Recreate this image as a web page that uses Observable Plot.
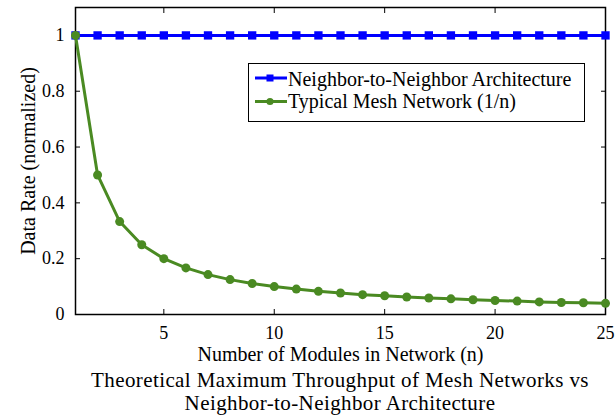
<!DOCTYPE html>
<html>
<head>
<meta charset="utf-8">
<script src="https://cdn.jsdelivr.net/npm/d3@7"></script>
<script src="https://cdn.jsdelivr.net/npm/@observablehq/plot@0.6"></script>
<style>
  body { margin: 0; background: #fff; font-family: "Liberation Serif", serif; }
  #wrap { position: relative; width: 616px; }
  #title { margin-left: 75px; width: 530px; text-align: center; font-size: 21px; line-height: 23.4px; letter-spacing: 0.4px; margin-top: 2.5px; color: #000; white-space: nowrap; }
  #legend { position: absolute; left: 248px; top: 63px; width: 337px; height: 59px; box-sizing: border-box; border: 1px solid #000; background: #fff; font-size: 20px; }
  .row { position: absolute; left: 0; height: 22px; line-height: 22px; white-space: nowrap; }
  .row svg { position: absolute; left: 0; top: 0; }
  .row span { position: absolute; left: 39px; top: 0; }
</style>
</head>
<body>
<div id="wrap">
  <div id="chart"></div>
  <div id="legend"></div>
</div>
<div id="title"></div>
<script>
const n = [1,2,3,4,5,6,7,8,9,10,11,12,13,14,15,16,17,18,19,20,21,22,23,24,25];
const neighbor = [1,1,1,1,1,1,1,1,1,1,1,1,1,1,1,1,1,1,1,1,1,1,1,1,1];
const mesh = [1,0.5,0.333,0.25,0.2,0.167,0.143,0.125,0.111,0.1,0.091,0.083,0.077,0.071,0.067,0.0625,0.059,0.056,0.053,0.05,0.048,0.045,0.043,0.042,0.04];
const xTicks = [5,10,15,20,25];
const yTicks = [0,0.2,0.4,0.6,0.8,1];
const yTickLabels = ["0","0.2","0.4","0.6","0.8","1"];
const seriesNames = ["Neighbor-to-Neighbor Architecture", "Typical Mesh Network (1/n)"];
const colors = ["#0000ff", "#4a8a22"];
const xLabel = "Number of Modules in Network (n)";
const yLabel = "Data Rate (normalized)";
const titleLines = ["Theoretical Maximum Throughput of Mesh Networks vs", "Neighbor-to-Neighbor Architecture"];

const neighborData = n.map((v, i) => ({n: v, r: neighbor[i]}));
const meshData = n.map((v, i) => ({n: v, r: mesh[i]}));

const chart = Plot.plot({
  width: 616,
  height: 366,
  marginLeft: 75,
  marginRight: 11,
  marginTop: 7,
  marginBottom: 52,
  style: {fontFamily: "'Liberation Serif', serif", fontSize: "18px", color: "#000", background: "#fff"},
  x: {domain: [1, 25]},
  y: {domain: [0, 1.1]},
  marks: [
    Plot.axisX({ticks: xTicks, tickSize: -5, tickPadding: 17, label: null, fontSize: 18}),
    Plot.axisX({ticks: [], label: xLabel, labelAnchor: "center", labelArrow: "none", labelOffset: 46.5, fontSize: 20}),
    Plot.axisX({anchor: "top", ticks: xTicks, tickSize: -5, tickFormat: () => "", label: null}),
    Plot.axisY({ticks: yTicks, tickSize: -5, tickPadding: 16, tickFormat: (d) => yTickLabels[yTicks.indexOf(d)] ?? "", label: null, fontSize: 18}),
    Plot.axisY({ticks: [], label: yLabel, labelAnchor: "center", labelArrow: "none", labelOffset: 55, fontSize: 20}),
    Plot.axisY({anchor: "right", ticks: yTicks, tickSize: -5, tickFormat: () => "", label: null}),
    Plot.frame({stroke: "#000", strokeWidth: 1.5}),
    Plot.line(neighborData, {x: "n", y: "r", stroke: colors[0], strokeWidth: 3}),
    Plot.dot(neighborData, {x: "n", y: "r", symbol: "square", r: 4.7, fill: colors[0], stroke: "none"}),
    Plot.line(meshData, {x: "n", y: "r", stroke: colors[1], strokeWidth: 3}),
    Plot.dot(meshData, {x: "n", y: "r", r: 4.5, fill: colors[1], stroke: "none"})
  ]
});
document.getElementById("chart").appendChild(chart);

const legend = document.getElementById("legend");
const rowTops = [4, 26];
const lineY = [10, 11.5];
seriesNames.forEach((name, i) => {
  const row = document.createElement("div");
  row.className = "row";
  row.style.top = rowTops[i] + "px";
  const y = lineY[i];
  const marker = i === 0
    ? `<rect x="${21 - 3.5}" y="${y - 3.5}" width="7" height="7" fill="${colors[i]}"/>`
    : `<circle cx="21" cy="${y}" r="3.6" fill="${colors[i]}"/>`;
  row.innerHTML = `<svg width="40" height="22"><line x1="6" x2="38" y1="${y}" y2="${y}" stroke="${colors[i]}" stroke-width="3"/>${marker}</svg><span>${name}</span>`;
  legend.appendChild(row);
});

const title = document.getElementById("title");
titleLines.forEach(t => { const d = document.createElement("div"); d.textContent = t; title.appendChild(d); });
</script>
</body>
</html>
